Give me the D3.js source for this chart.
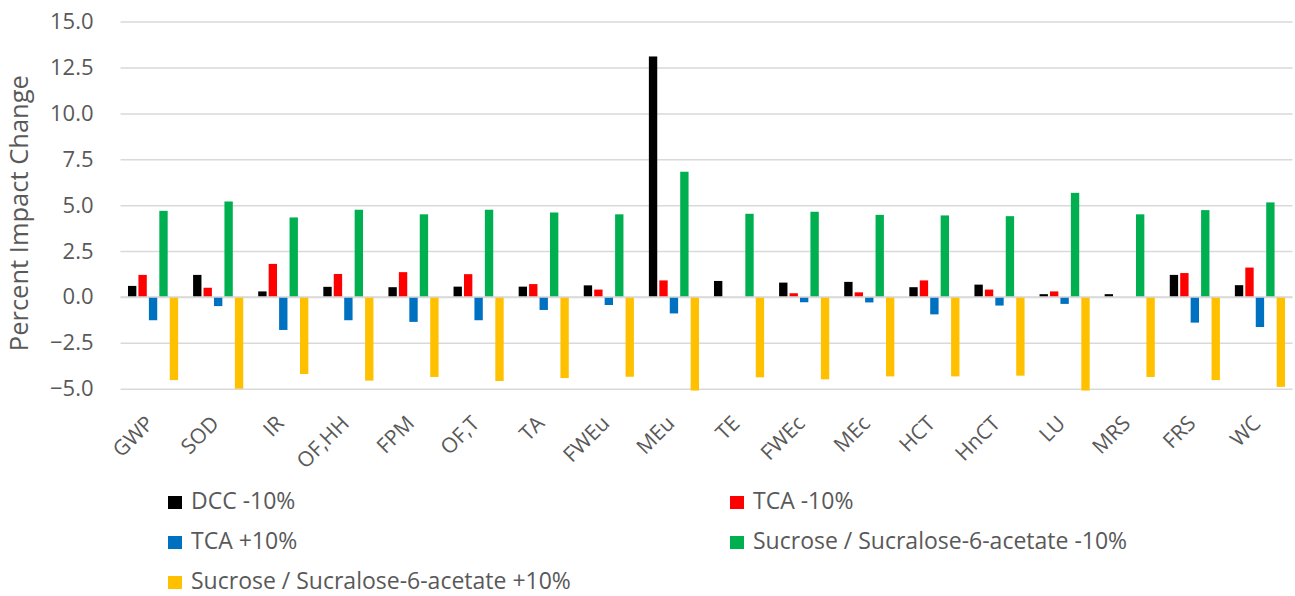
<!DOCTYPE html>
<html>
<head>
<meta charset="utf-8">
<script src="https://cdn.jsdelivr.net/npm/d3@7"></script>
<style>
  html, body { margin: 0; padding: 0; background: #fff; }
  svg { display: block; }
  text { font-family: "Open Sans", sans-serif; fill: #595959; }
</style>
</head>
<body>
<svg id="chart" width="1295" height="596"></svg>
<script>
const categories = ["GWP","SOD","IR","OF,HH","FPM","OF,T","TA","FWEu","MEu","TE","FWEc","MEc","HCT","HnCT","LU","MRS","FRS","WC"];
const seriesNames = ["DCC -10%","TCA -10%","TCA +10%","Sucrose / Sucralose-6-acetate -10%","Sucrose / Sucralose-6-acetate +10%"];
const seriesColors = ["#000000","#FF0000","#0070C0","#00B050","#FFC000"];
const dccMinus10 = [0.6,1.2,0.3,0.55,0.53,0.56,0.56,0.63,13.1,0.87,0.78,0.82,0.53,0.67,0.15,0.15,1.2,0.64];
const tcaMinus10 = [1.2,0.5,1.8,1.25,1.35,1.24,0.7,0.4,0.9,0,0.2,0.25,0.9,0.4,0.3,0,1.3,1.6];
const tcaPlus10 = [-1.27,-0.5,-1.8,-1.27,-1.36,-1.27,-0.71,-0.44,-0.9,0,-0.29,-0.3,-0.95,-0.47,-0.38,0,-1.4,-1.64];
const sucMinus10 = [4.69,5.2,4.33,4.75,4.5,4.75,4.6,4.5,6.82,4.53,4.64,4.47,4.44,4.4,5.67,4.5,4.73,5.15];
const sucPlus10 = [-4.53,-5.0,-4.2,-4.56,-4.36,-4.58,-4.42,-4.35,-5.1,-4.38,-4.49,-4.33,-4.33,-4.29,-5.1,-4.36,-4.53,-4.9];
const yTicks = [-5,-2.5,0,2.5,5,7.5,10,12.5,15];

const seriesValues = [dccMinus10, tcaMinus10, tcaPlus10, sucMinus10, sucPlus10];
const svg = d3.select("#chart");

const plot = {left: 120.5, right: 1292.5, top: 21.6, bottom: 388.7};

const y = d3.scaleLinear().domain([-5, 15]).range([plot.bottom, plot.top]);
const x0 = d3.scaleBand().domain(categories).range([plot.left, plot.right]).paddingInner(0.23).paddingOuter(0.115);
const x1 = d3.scaleBand().domain(d3.range(seriesNames.length)).range([0, x0.bandwidth()]).paddingInner(0.2).paddingOuter(0);

// grid
const yAxis = d3.axisLeft(y).tickValues(yTicks).tickSize(-(plot.right - plot.left)).tickPadding(27).tickFormat(d3.format(".1f"));
const gy = svg.append("g").attr("transform", `translate(${plot.left},0)`).call(yAxis);
gy.select(".domain").remove();
gy.selectAll(".tick line").attr("stroke", "#d9d9d9").attr("stroke-width", 1.5);
gy.selectAll(".tick text").attr("font-size", 22).attr("fill", "#595959").style("font-family", "'Open Sans', sans-serif");

// bars
const groups = svg.append("g").selectAll("g").data(categories).join("g")
  .attr("transform", d => `translate(${x0(d)},0)`);
groups.selectAll("rect").data((c, i) => seriesValues.map((vals, s) => ({s, v: vals[i]})))
  .join("rect")
  .attr("x", d => x1(d.s))
  .attr("width", x1.bandwidth())
  .attr("y", d => y(Math.max(0, d.v)))
  .attr("height", d => Math.abs(y(d.v) - y(0)))
  .attr("fill", d => seriesColors[d.s]);

// zero line on top
svg.append("line").attr("x1", plot.left).attr("x2", plot.right).attr("y1", y(0)).attr("y2", y(0))
  .attr("stroke", "#d9d9d9").attr("stroke-width", 1.5);

// x labels
const xAxis = d3.axisBottom(x0).tickSize(0).tickPadding(0);
const gx = svg.append("g").attr("transform", `translate(0,${plot.bottom})`).call(xAxis);
gx.select(".domain").remove();
gx.selectAll(".tick text")
  .attr("font-size", 21).attr("fill", "#595959").style("font-family", "'Open Sans', sans-serif")
  .attr("text-anchor", "end").attr("dy", null).attr("y", 0)
  .attr("transform", "translate(2,36) rotate(-45)");

// y title
svg.append("text").attr("transform", `translate(28,${(plot.top + plot.bottom) / 2 + 8}) rotate(-90)`)
  .attr("text-anchor", "middle").attr("font-size", 25.5).text("Percent Impact Change");

// legend
const legendPos = [[168,509],[730,509],[168,549],[730,549],[168,589]];
const lg = svg.append("g").selectAll("g").data(seriesNames).join("g")
  .attr("transform", (d, i) => `translate(${legendPos[i][0]},${legendPos[i][1]})`);
lg.append("rect").attr("x", 0).attr("y", -13).attr("width", 14).attr("height", 13)
  .attr("fill", (d, i) => seriesColors[i]);
lg.append("text").attr("x", 23).attr("y", 0).attr("font-size", 23).text(d => d);
</script>
</body>
</html>
